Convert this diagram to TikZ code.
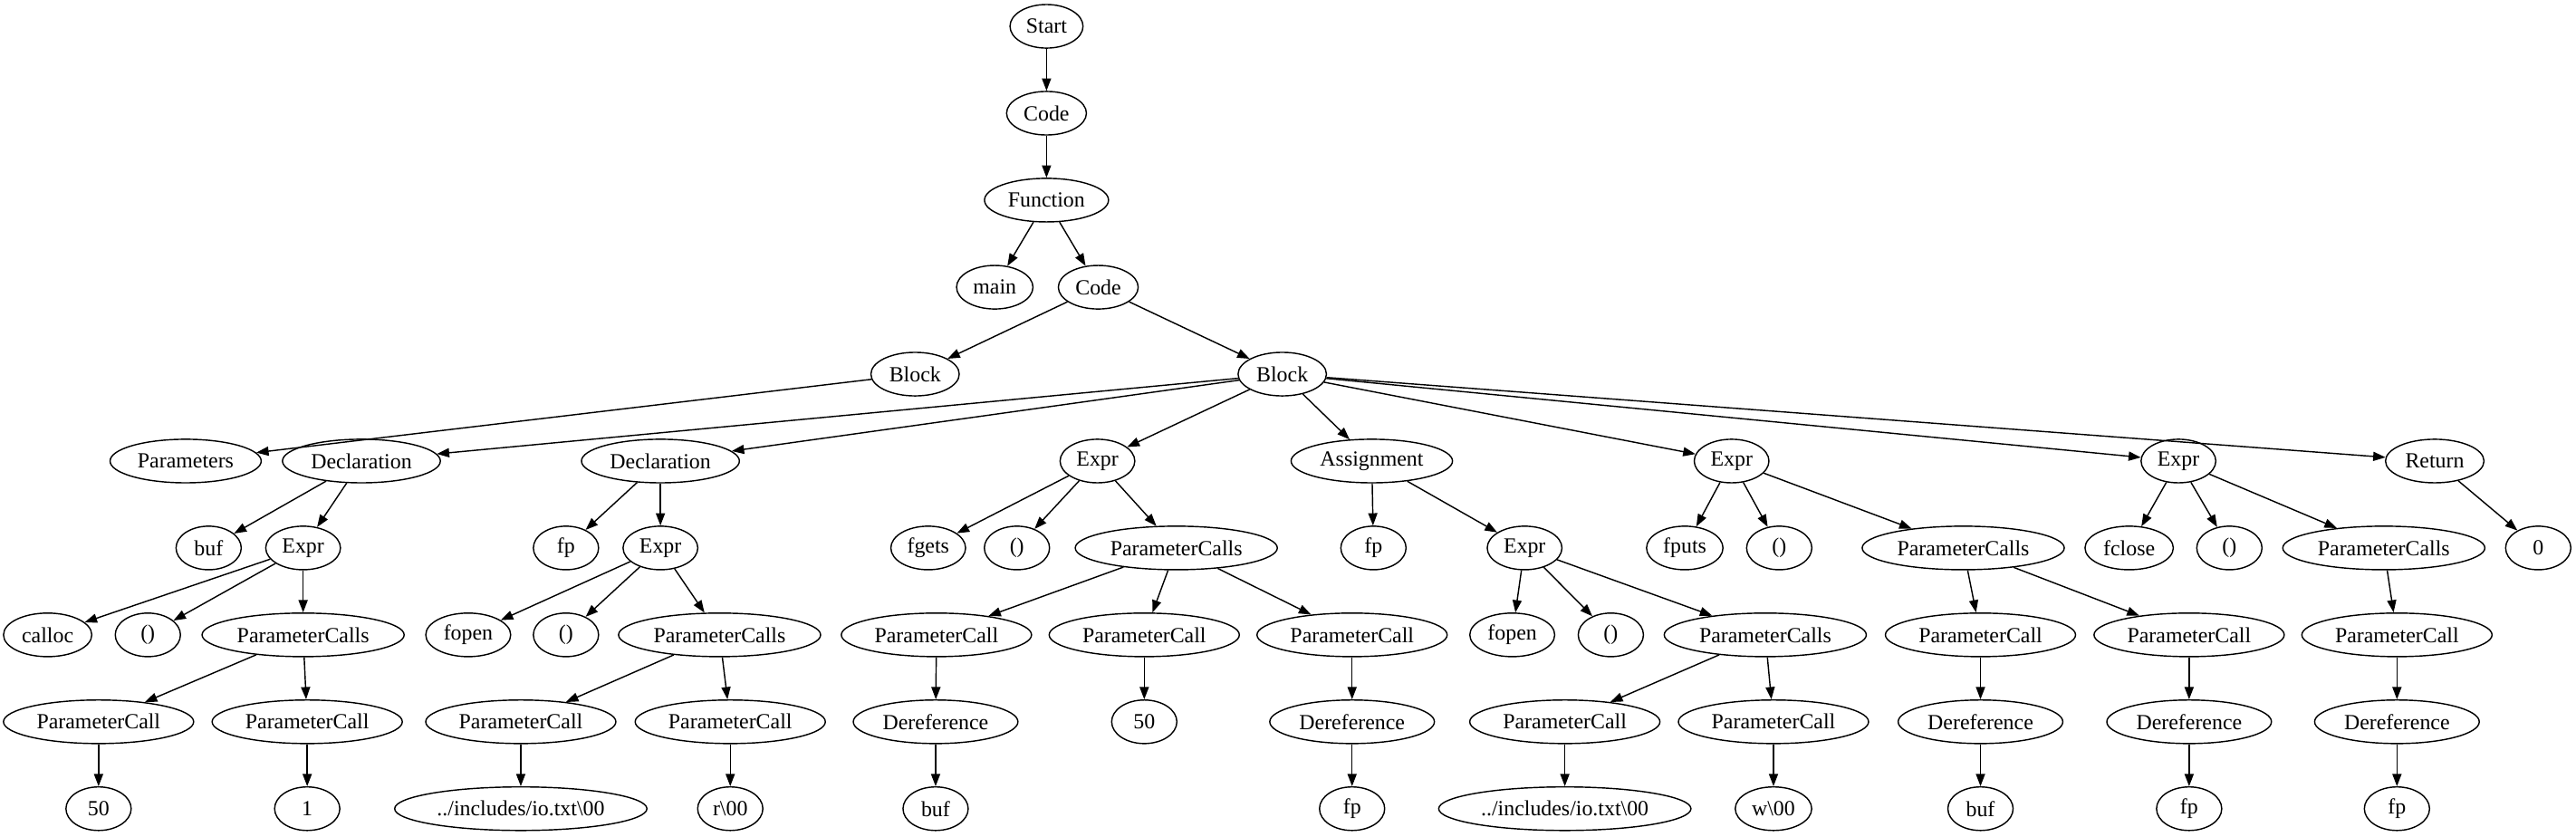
\documentclass[tikz,border=0pt]{standalone}
\usepackage{fontspec}
\setmainfont{Liberation Serif}
\usetikzlibrary{shapes.geometric, arrows.meta}
\tikzset{
    tnode/.style={ellipse, draw, line width=0.6pt, inner xsep=2.5pt, inner ysep=1pt, minimum width=1.06cm, minimum height=0.708cm, font=\fontsize{10}{12}\selectfont},
    arrow/.style={line width=0.6pt, -{Triangle[length=5.7pt, width=4.2pt]}}
}

\begin{document}
\begin{tikzpicture}[x=0.02671cm, y=-0.02671cm]
            \useasboundingbox (0,0) rectangle (1568,509);

            \node[tnode] (start) at (637,16) {Start};
            \node[tnode] (code) at (637,68.9) {Code};
            \node[tnode] (func) at (637,121.8) {Function};
            \node[tnode] (main) at (605.5,174.8) {main};
            \node[tnode] (code2) at (668.5,174.8) {Code};
            \node[tnode] (blockA) at (557,227.7) {Block};
            \node[tnode] (blockB) at (780.5,227.7) {Block};

            % statements of the block
            \node[tnode] (params) at (113,280.6) {Parameters};
            \node[tnode] (declA) at (220,280.6) {Declaration};
            \node[tnode] (declB) at (402,280.6) {Declaration};
            \node[tnode] (exprA) at (668,280.6) {Expr};
            \node[tnode] (assign) at (835,280.6) {Assignment};
            \node[tnode] (exprB) at (1054,280.6) {Expr};
            \node[tnode] (exprC) at (1326,280.6) {Expr};
            \node[tnode] (ret) at (1482,280.6) {Return};

            \node[tnode] (declAbuf) at (127,333.5) {buf};
            \node[tnode] (declAexpr) at (184.5,333.5) {Expr};
            \node[tnode] (declBfp) at (344.5,333.5) {fp};
            \node[tnode] (declBexpr) at (402,333.5) {Expr};
            \node[tnode] (fgets) at (565,333.5) {fgets};
            \node[tnode] (exprAcall) at (619,333.5) {()};
            \node[tnode] (exprApcs) at (716,333.5) {ParameterCalls};
            \node[tnode] (assignfp) at (836,333.5) {fp};
            \node[tnode] (assignexpr) at (928,333.5) {Expr};
            \node[tnode] (fputs) at (1025.5,333.5) {fputs};
            \node[tnode] (exprBcall) at (1083,333.5) {()};
            \node[tnode] (exprBpcs) at (1195,333.5) {ParameterCalls};
            \node[tnode] (fclose) at (1296,333.5) {fclose};
            \node[tnode] (exprCcall) at (1357,333.5) {()};
            \node[tnode] (exprCpcs) at (1451,333.5) {ParameterCalls};
            \node[tnode] (retval) at (1545,333.5) {0};

            \node[tnode] (calloc) at (29,386.4) {calloc};
            \node[tnode] (declAcall) at (90,386.4) {()};
            \node[tnode] (declApcs) at (184.5,386.4) {ParameterCalls};
            \node[tnode] (fopenA) at (285,386.4) {fopen};
            \node[tnode] (declBcall) at (344.5,386.4) {()};
            \node[tnode] (declBpcs) at (438,386.4) {ParameterCalls};
            \node[tnode] (exprApcA) at (570,386.4) {ParameterCall};
            \node[tnode] (exprApcB) at (696.5,386.4) {ParameterCall};
            \node[tnode] (exprApcC) at (823,386.4) {ParameterCall};
            \node[tnode] (fopenB) at (920.5,386.4) {fopen};
            \node[tnode] (assigncall) at (980.5,386.4) {()};
            \node[tnode] (assignpcs) at (1074.5,386.4) {ParameterCalls};
            \node[tnode] (exprBpcA) at (1205.5,386.4) {ParameterCall};
            \node[tnode] (exprBpcB) at (1332.5,386.4) {ParameterCall};
            \node[tnode] (exprCpcA) at (1459,386.4) {ParameterCall};

            \node[tnode] (declApcA) at (60,439.3) {ParameterCall};
            \node[tnode] (declApcB) at (187,439.3) {ParameterCall};
            \node[tnode] (declBpcA) at (317,439.3) {ParameterCall};
            \node[tnode] (declBpcB) at (444.5,439.3) {ParameterCall};
            \node[tnode] (derefA) at (569.5,439.3) {Dereference};
            \node[tnode] (num50) at (696.5,439.3) {50};
            \node[tnode] (derefB) at (823,439.3) {Dereference};
            \node[tnode] (assignpcA) at (952.5,439.3) {ParameterCall};
            \node[tnode] (assignpcB) at (1079.5,439.3) {ParameterCall};
            \node[tnode] (derefC) at (1205.5,439.3) {Dereference};
            \node[tnode] (derefD) at (1332.5,439.3) {Dereference};
            \node[tnode] (derefE) at (1459,439.3) {Dereference};

            \node[tnode] (valA) at (60,492.2) {50};
            \node[tnode] (valB) at (187,492.2) {1};
            \node[tnode] (pathA) at (317,492.2) {../includes/io.txt\textbackslash 00};
            \node[tnode] (modeA) at (444.5,492.2) {r\textbackslash 00};
            \node[tnode] (derefAval) at (569.5,492.2) {buf};
            \node[tnode] (derefBval) at (823,492.2) {fp};
            \node[tnode] (pathB) at (952.5,492.2) {../includes/io.txt\textbackslash 00};
            \node[tnode] (modeB) at (1079.5,492.2) {w\textbackslash 00};
            \node[tnode] (derefCval) at (1205.5,492.2) {buf};
            \node[tnode] (derefDval) at (1332.5,492.2) {fp};
            \node[tnode] (derefEval) at (1459,492.2) {fp};

            \draw[arrow] (start) -- (code);
            \draw[arrow] (code) -- (func);
            \draw[arrow] (func) -- (main);
            \draw[arrow] (func) -- (code2);
            \draw[arrow] (code2) -- (blockA);
            \draw[arrow] (code2) -- (blockB);
            \draw[arrow] (blockA) -- (params);
            \draw[arrow] (blockB) -- (declA);
            \draw[arrow] (blockB) -- (declB);
            \draw[arrow] (blockB) -- (exprA);
            \draw[arrow] (blockB) -- (assign);
            \draw[arrow] (blockB) -- (exprB);
            \draw[arrow] (blockB) -- (exprC);
            \draw[arrow] (blockB) -- (ret);

            \draw[arrow] (declA) -- (declAbuf);
            \draw[arrow] (declA) -- (declAexpr);
            \draw[arrow] (declAexpr) -- (calloc);
            \draw[arrow] (declAexpr) -- (declAcall);
            \draw[arrow] (declAexpr) -- (declApcs);
            \draw[arrow] (declApcs) -- (declApcA);
            \draw[arrow] (declApcs) -- (declApcB);
            \draw[arrow] (declApcA) -- (valA);
            \draw[arrow] (declApcB) -- (valB);

            \draw[arrow] (declB) -- (declBfp);
            \draw[arrow] (declB) -- (declBexpr);
            \draw[arrow] (declBexpr) -- (fopenA);
            \draw[arrow] (declBexpr) -- (declBcall);
            \draw[arrow] (declBexpr) -- (declBpcs);
            \draw[arrow] (declBpcs) -- (declBpcA);
            \draw[arrow] (declBpcs) -- (declBpcB);
            \draw[arrow] (declBpcA) -- (pathA);
            \draw[arrow] (declBpcB) -- (modeA);

            \draw[arrow] (exprA) -- (fgets);
            \draw[arrow] (exprA) -- (exprAcall);
            \draw[arrow] (exprA) -- (exprApcs);
            \draw[arrow] (exprApcs) -- (exprApcA);
            \draw[arrow] (exprApcs) -- (exprApcB);
            \draw[arrow] (exprApcs) -- (exprApcC);
            \draw[arrow] (exprApcA) -- (derefA);
            \draw[arrow] (exprApcB) -- (num50);
            \draw[arrow] (exprApcC) -- (derefB);
            \draw[arrow] (derefA) -- (derefAval);
            \draw[arrow] (derefB) -- (derefBval);

            \draw[arrow] (assign) -- (assignfp);
            \draw[arrow] (assign) -- (assignexpr);
            \draw[arrow] (assignexpr) -- (fopenB);
            \draw[arrow] (assignexpr) -- (assigncall);
            \draw[arrow] (assignexpr) -- (assignpcs);
            \draw[arrow] (assignpcs) -- (assignpcA);
            \draw[arrow] (assignpcs) -- (assignpcB);
            \draw[arrow] (assignpcA) -- (pathB);
            \draw[arrow] (assignpcB) -- (modeB);

            \draw[arrow] (exprB) -- (fputs);
            \draw[arrow] (exprB) -- (exprBcall);
            \draw[arrow] (exprB) -- (exprBpcs);
            \draw[arrow] (exprBpcs) -- (exprBpcA);
            \draw[arrow] (exprBpcs) -- (exprBpcB);
            \draw[arrow] (exprBpcA) -- (derefC);
            \draw[arrow] (exprBpcB) -- (derefD);
            \draw[arrow] (derefC) -- (derefCval);
            \draw[arrow] (derefD) -- (derefDval);

            \draw[arrow] (exprC) -- (fclose);
            \draw[arrow] (exprC) -- (exprCcall);
            \draw[arrow] (exprC) -- (exprCpcs);
            \draw[arrow] (exprCpcs) -- (exprCpcA);
            \draw[arrow] (exprCpcA) -- (derefE);
            \draw[arrow] (derefE) -- (derefEval);

            \draw[arrow] (ret) -- (retval);
        \end{tikzpicture}
\end{document}
